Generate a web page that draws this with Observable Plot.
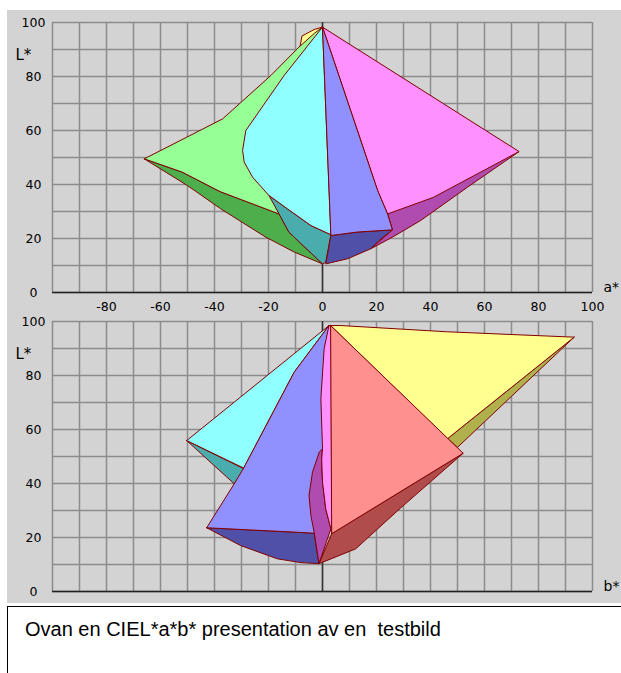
<!DOCTYPE html>
<html>
<head>
<meta charset="utf-8">
<script src="https://cdn.jsdelivr.net/npm/d3@7"></script>
<script src="https://cdn.jsdelivr.net/npm/@observablehq/plot@0.6"></script>
<style>
  html, body { margin: 0; padding: 0; background: #fff; }
  body { width: 621px; height: 673px; overflow: hidden; position: relative; }
  #panel { position: absolute; left: 7px; top: 10px; width: 614px; height: 593px; background: #d3d3d3; overflow: hidden; }
  #top { position: absolute; left: 0; top: 0; }
  #bottom { position: absolute; left: 0; top: 305px; }
  #caption { position: absolute; left: 7px; top: 606px; width: 720px; height: 120px; border: 1px solid #000; box-sizing: border-box; background: #fff; }
  #caption span { position: absolute; left: 17px; top: 11px; font-family: "Liberation Sans", Arial, sans-serif; font-size: 20px; white-space: pre; color: #000; }
</style>
</head>
<body>
<div id="panel"><div id="top"></div><div id="bottom"></div></div>
<div id="caption"><span>Ovan en CIEL*a*b* presentation av en  testbild</span></div>
<script>
// ---- tick values ----
const axisTicks = [-80, -60, -40, -20, 0, 20, 40, 60, 80, 100];
const lTicks = [0, 20, 40, 60, 80, 100];
const gridV = [-100, -90, -80, -70, -60, -50, -40, -30, -20, -10, 0, 10, 20, 30, 40, 50, 60, 70, 80, 90, 100];
const gridH = [0, 10, 20, 30, 40, 50, 60, 70, 80, 90, 100];

// ---- top panel: a* vs L* (polygon vertices [a*, L*]) ----
const topYellow = [[-8.3, 91.2], [-7.6, 95], [-3.1, 97.4], [0, 98.3], [-3, 95]];
const topDarkGreen = [[-66, 49.5], [-52, 44.6], [-38, 37.4], [-16.1, 29.1], [-12.4, 22.3], [0, 10.6], [-10.5, 15], [-21, 20.5], [-37.7, 31], [-50, 39.6]];
const topLightGreen = [[-66, 49.5], [-37, 64.3], [-19.1, 80.4], [-8.7, 90.9], [-3, 96], [0, 98.3], [-10, 60], [-16.1, 29.1], [-38, 37.4], [-52, 44.6]];
const topTeal = [[-19.8, 35.9], [-16.1, 29.1], [-12.4, 22.3], [0, 10.6], [1.2, 11.2], [3.1, 21.4], [-4.3, 24.8], [-13, 31]];
const topCyan = [[0, 98.3], [-14.2, 80.4], [-28.4, 60], [-29.6, 52.6], [-29, 48.3], [-25.9, 42.7], [-19.8, 35.9], [-13, 31], [-4.3, 24.8], [3.1, 21.4]];
const topDarkMagenta = [[24.1, 29.1], [72.8, 52.2], [53.7, 39], [36.4, 26.7], [25.9, 20.5], [17.9, 16.2], [25.9, 23.2]];
const topMagenta = [[0, 98.3], [72.8, 52.2], [41, 35.2], [24.1, 29.1], [20.4, 37.8]];
const topDarkBlue = [[3.1, 21.1], [13, 22.4], [25.9, 23.2], [21, 19.3], [17.9, 16.2], [9.3, 12.5], [1.2, 10.6]];
const topPeriwinkle = [[0, 98.3], [20.4, 37.8], [24.1, 29.1], [25.9, 23.2], [13, 22.4], [3.1, 21.1]];

// ---- bottom panel: b* vs L* (polygon vertices [b*, L*]) ----
const botOlive = [[93.2, 94.2], [46.3, 56.6], [50, 53.4]];
const botYellow = [[3, 98.5], [6.8, 98.5], [46, 96.2], [93.2, 94.2], [46.3, 56.6]];
const botTeal = [[-50.3, 55.9], [-29, 45.4], [-32.7, 39.9]];
const botCyan = [[-50.3, 55.9], [2.4, 98.5], [-10.5, 81.2], [-29.2, 45.7]];
const botDarkBlue = [[-42.9, 23.6], [-10.5, 22], [-3.1, 21.6], [-1.3, 10.3], [-8, 10.7], [-16.7, 12.1], [-30.3, 17]];
const botPeriwinkle = [[2.4, 98.5], [-10.5, 81.2], [-29.2, 45.7], [-32.7, 39.9], [-42.9, 23.6], [-10.5, 22], [-3.1, 21.6], [1, 21.5], [2, 60]];
const botDarkMagenta = [[0, 52.9], [-1.2, 51.6], [-3.7, 44.2], [-5, 35.6], [-4.3, 28.1], [-3.1, 22], [-1.3, 10.3], [3.1, 23.2], [1.2, 30.6], [0, 40.5], [-0.3, 49]];
const botPink = [[2.4, 98.5], [3.2, 98.5], [3.4, 21.4], [3.1, 23.2], [1.2, 30.6], [0, 40.5], [-0.3, 49], [0, 52.9], [-0.6, 71.4], [0.6, 89.9]];
const botDarkRed = [[3.4, 21.4], [52.1, 51.2], [29, 31], [12.3, 15.8], [-1.3, 10.3]];
const botSalmon = [[3, 98.5], [52.1, 51.2], [3.4, 21.4]];

// ---- styles (draw order back to front) ----
const topLayers = [
  [topYellow, "#ffff90"], [topDarkGreen, "#4caf4c"], [topLightGreen, "#96ff96"],
  [topTeal, "#4aadad"], [topCyan, "#90ffff"], [topDarkMagenta, "#b04cb0"],
  [topMagenta, "#ff90ff"], [topDarkBlue, "#5050a8"], [topPeriwinkle, "#9090ff"]
];
const botLayers = [
  [botOlive, "#b0b04c"], [botYellow, "#ffff90"], [botTeal, "#4aadad"], [botCyan, "#90ffff"],
  [botDarkBlue, "#5050a8"], [botPeriwinkle, "#9090ff"], [botDarkMagenta, "#b04cb0"],
  [botPink, "#ff90ff"], [botDarkRed, "#b04c4c"], [botSalmon, "#ff9090"]
];

const FONT = "DejaVu Sans, sans-serif";

function panel({layers, height, marginTop, marginBottom, showX, axisName, nameDy}) {
  const polys = layers.map(([pts, color]) =>
    Plot.line(pts.concat([pts[0]]), {
      x: d => d[0], y: d => d[1], fill: color, stroke: "#800000",
      strokeWidth: 1, strokeLinejoin: "round"
    }));
  const marks = [
    Plot.gridX(gridV, {stroke: "#8c8c8c", strokeOpacity: 1, strokeWidth: 1.5}),
    Plot.gridY(gridH, {stroke: "#8c8c8c", strokeOpacity: 1, strokeWidth: 1.5}),
    Plot.ruleX([0], {stroke: "#333", strokeWidth: 1.5}),
    Plot.ruleY([0], {stroke: "#222", strokeWidth: 1.5}),
    ...polys,
    Plot.axisY(lTicks, {tickSize: 0, tickPadding: 19, textAnchor: "middle", fontSize: 12.5, tickFormat: d => String(d), label: null}),
    Plot.text(["L*"], {frameAnchor: "top-left", dx: -37, dy: nameDy, textAnchor: "start", fontSize: 15, text: d => d}),
    Plot.text([axisName], {frameAnchor: "bottom-right", dx: 11, dy: -1, textAnchor: "start", fontSize: 14, text: d => d})
  ];
  if (showX) {
    marks.push(Plot.axisX(axisTicks, {tickSize: 0, tickPadding: 10, fontSize: 12.5, tickFormat: d => String(d), label: null}));
  }
  return Plot.plot({
    width: 614, height,
    marginLeft: 45, marginRight: 29, marginTop, marginBottom,
    x: {domain: [-100, 100], axis: null, label: null},
    y: {domain: [0, 100], axis: null, label: null},
    style: {background: "transparent", fontFamily: FONT, color: "#000", overflow: "hidden"},
    marks
  });
}

document.getElementById("top").append(panel({
  layers: topLayers, height: 305, marginTop: 12, marginBottom: 23, showX: true, axisName: "a*", nameDy: 26.5
}));
document.getElementById("bottom").append(panel({
  layers: botLayers, height: 288, marginTop: 6, marginBottom: 12, showX: false, axisName: "b*", nameDy: 27
}));
</script>
</body>
</html>
